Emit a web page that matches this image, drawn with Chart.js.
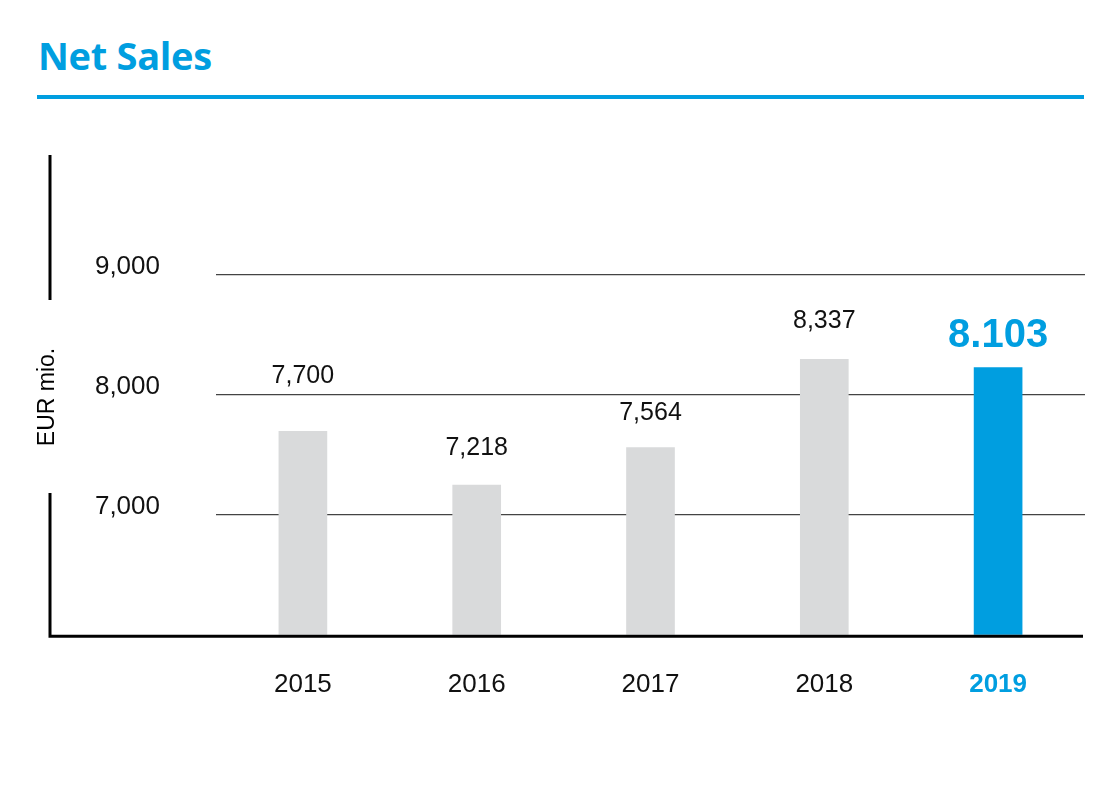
<!DOCTYPE html>
<html>
<head>
<meta charset="utf-8">
<script src="https://cdn.jsdelivr.net/npm/chart.js@4"></script>
<style>
    html, body { margin: 0; padding: 0; background: #fff; }
    body { width: 1117px; height: 787px; position: relative; overflow: hidden; }
    h1 {
        position: absolute; left: 38px; top: 29px; margin: 0;
        font: 700 38px "Open Sans", sans-serif; color: #009ee0; letter-spacing: -0.3px;
    }
    .rule { position: absolute; left: 37px; top: 95px; width: 1047px; height: 4px; background: #009ee0; }
    #wrap { position: absolute; left: 0; top: 0; width: 1117px; height: 787px; }
</style>
</head>
<body>
<h1>Net Sales</h1>
<div class="rule"></div>
<div id="wrap"><canvas id="salesChart"></canvas></div>
<script>
// values
const years = ['2015', '2016', '2017', '2018', '2019'];
const barHeights = [7700, 7250, 7564, 8300, 8230];
const valueLabels = ['7,700', '7,218', '7,564', '8,337', '8.103'];
const yTicks = [7000, 8000, 9000];

const blue = '#009ee0';
const grey = '#d9dadb';
const labelLift = [55, 37, 34, 38, 31];   // how far above the bar each label sits

const frame = {
    id: 'frame',
    afterDraw(chart) {
        const c = chart.ctx;
        const area = chart.chartArea;
        c.save();
        c.strokeStyle = '#000';
        c.lineWidth = 3;
        // left axis line, broken around the unit label
        const mid = 397;
        c.beginPath();
        c.moveTo(50, area.top);
        c.lineTo(50, mid - 97);
        c.moveTo(50, mid + 96);
        c.lineTo(50, area.bottom + 1.5);
        c.lineTo(area.right - 2, area.bottom + 1.5);
        c.stroke();

        c.translate(48, mid);
        c.rotate(-Math.PI / 2);
        c.fillStyle = '#000';
        c.font = '23px "Liberation Sans", Arial, sans-serif';
        c.textAlign = 'center';
        c.textBaseline = 'middle';
        c.fillText('EUR mio.', 0, 0);
        c.restore();
    },
    afterDatasetsDraw(chart) {
        const c = chart.ctx;
        const bars = chart.getDatasetMeta(0).data;
        c.save();
        c.textAlign = 'center';
        c.textBaseline = 'middle';
        bars.forEach((bar, i) => {
            const last = i === bars.length - 1;
            c.fillStyle = last ? blue : '#111';
            c.font = last ? '700 40px "Liberation Sans", Arial, sans-serif'
                          : '25px "Liberation Sans", Arial, sans-serif';
            c.fillText(valueLabels[i], bar.x, bar.y - labelLift[i]);
        });
        c.restore();
    }
};

const ctx = document.getElementById('salesChart').getContext('2d');
new Chart(ctx, {
    type: 'bar',
    data: {
        labels: years,
        datasets: [{
            data: barHeights,
            backgroundColor: years.map((y, i) => i === years.length - 1 ? blue : grey),
            barPercentage: 0.28,
            categoryPercentage: 1
        }]
    },
    options: {
        responsive: true,
        maintainAspectRatio: false,
        animation: false,
        layout: { padding: { left: 0, right: 32, top: 155, bottom: 53 } },
        plugins: {
            legend: { display: false },
            tooltip: { enabled: false }
        },
        scales: {
            x: {
                grid: { display: false, drawTicks: false },
                border: { display: false },
                ticks: {
                    padding: 34,
                    color: (c) => c.index === years.length - 1 ? blue : '#111',
                    font: (c) => ({
                        family: '"Liberation Sans", Arial, sans-serif',
                        size: 26,
                        weight: c.index === years.length - 1 ? '700' : '400'
                    })
                }
            },
            y: {
                min: 6000,
                max: 10000,
                afterFit(scale) { scale.width = 216; },
                afterBuildTicks(scale) { scale.ticks = yTicks.map(v => ({ value: v })); },
                border: { display: false },
                grid: { color: '#444', lineWidth: 1.2, drawTicks: false },
                ticks: {
                    padding: 56,
                    labelOffset: -8,
                    color: '#111',
                    font: { family: '"Liberation Sans", Arial, sans-serif', size: 26 },
                    callback: (v) => v.toLocaleString('en-US')
                }
            }
        }
    },
    plugins: [frame]
});
</script>
</body>
</html>
